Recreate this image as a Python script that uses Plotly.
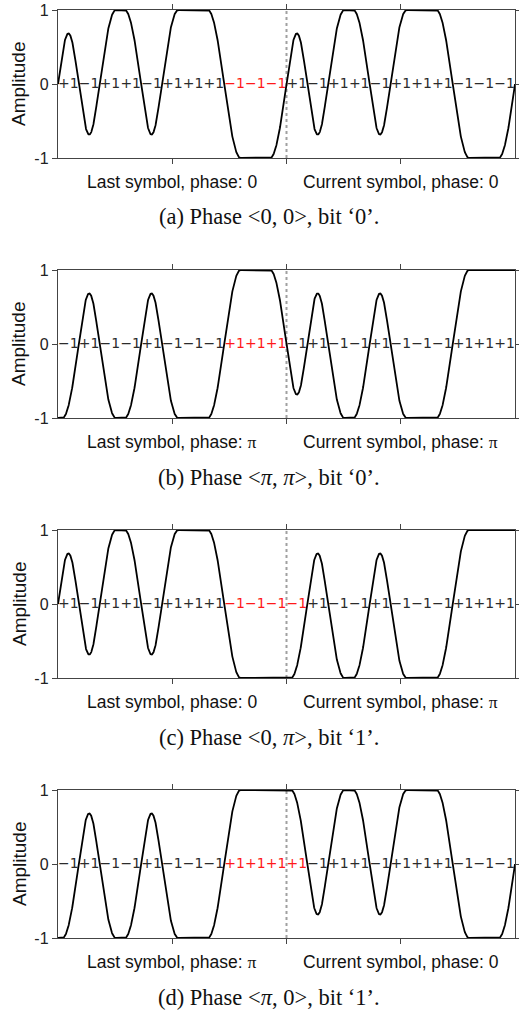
import numpy as np
import plotly.graph_objects as go

# ---------------- data ----------------
chips_last_phase0 = [1, -1, 1, 1, -1, 1, 1, 1, -1, -1, -1]
chips_last_phasepi = [-1, 1, -1, -1, 1, -1, -1, -1, 1, 1, 1]
chips_cur_phase0 = [1, -1, 1, 1, -1, 1, 1, 1, -1, -1, -1]
chips_cur_phasepi = [-1, 1, -1, -1, 1, -1, -1, -1, 1, 1, 1]
chip_before = -1          # chip preceding the shown window
chip_after = 1            # chip following the shown window

panel_last = ["0", "pi", "0", "pi"]
panel_cur = ["0", "pi", "pi", "0"]
red_last = [3, 3, 3, 3]   # highlighted chips at end of last symbol
red_cur = [0, 0, 1, 1]    # highlighted chips at start of current symbol
captions = [
    "(a) Phase &lt;0, 0&gt;, bit \u20180\u2019.",
    "(b) Phase &lt;<i>\u03c0</i>, <i>\u03c0</i>&gt;, bit \u20180\u2019.",
    "(c) Phase &lt;0, <i>\u03c0</i>&gt;, bit \u20181\u2019.",
    "(d) Phase &lt;<i>\u03c0</i>, 0&gt;, bit \u20181\u2019.",
]
y_tick_vals = [-1, 0, 1]
y_tick_text = ["-1", "0", "1"]
x_tick_vals = [5.5, 11, 16.5]

chip_sets = {"0": (chips_last_phase0, chips_cur_phase0),
             "pi": (chips_last_phasepi, chips_cur_phasepi)}


def step(u, w=1.57):
    v = np.clip(u / w, -0.5, 0.5)
    return 0.5 * (1 + np.sin(np.pi * v))


def waveform(chips, t):
    seq = [chip_before] + list(chips) + [chip_after]
    s = np.full_like(t, float(seq[0]))
    for k in range(1, len(seq)):
        d = seq[k] - seq[k - 1]
        if d:
            s = s + d * step(t - (k - 1))
    return s


H = 1013
W = 519
ML, MR = 58, 4
PW = W - ML - MR

fig = go.Figure()
layout = dict(
    width=W, height=H,
    margin=dict(l=ML, r=MR, t=0, b=0, autoexpand=False),
    paper_bgcolor="white", plot_bgcolor="white",
    showlegend=False,
    annotations=[], shapes=[],
)

pi_span = "<span style='font-family:Liberation Serif'>\u03c0</span>"

for i in range(4):
    n = "" if i == 0 else str(i + 1)
    xa, ya = "x" + n, "y" + n
    last = chip_sets[panel_last[i]][0]
    cur = chip_sets[panel_cur[i]][1]
    chips = list(last) + list(cur)
    nl = len(last)
    t = np.linspace(0, len(chips), 2201)
    s = waveform(chips, t)

    xs = [k + 0.5 for k in range(len(chips))]
    labels = [("+1" if c > 0 else "\u22121") for c in chips]
    colors = []
    for k in range(len(chips)):
        red = (nl - red_last[i] <= k < nl) or (nl <= k < nl + red_cur[i])
        colors.append("#ff1a1a" if red else "#2b2b2b")

    fig.add_trace(go.Scatter(
        x=xs, y=[0] * len(xs), mode="text", text=labels,
        textfont=dict(family="DejaVu Sans", size=14, color=colors),
        textposition="middle center", xaxis=xa, yaxis=ya,
        cliponaxis=False, hoverinfo="skip"))
    fig.add_trace(go.Scatter(
        x=t, y=s, mode="lines", line=dict(color="black", width=1.8),
        xaxis=xa, yaxis=ya, cliponaxis=False, hoverinfo="skip"))

    top = 10 + 260 * i
    bot = 158 + 260 * i
    axis_common = dict(showline=True, linecolor="#444", linewidth=1.2,
                       mirror="ticks", ticks="outside", ticklen=5,
                       tickcolor="#444", showgrid=False, zeroline=False,
                       automargin=False)
    layout["xaxis" + n] = dict(domain=[0, 1], range=[0, len(chips)],
                               tickvals=x_tick_vals, showticklabels=False,
                               anchor=ya, **axis_common)
    layout["yaxis" + n] = dict(domain=[1 - bot / H, 1 - top / H], range=[-1, 1],
                               tickvals=y_tick_vals, ticktext=y_tick_text,
                               tickfont=dict(family="Liberation Sans", size=16, color="#222"),
                               anchor=xa, **axis_common)

    layout["shapes"].append(dict(type="line", xref=xa, yref=ya,
                                 x0=nl, x1=nl, y0=-1, y1=1, layer="below",
                                 line=dict(color="#a0a0a0", width=2, dash="dot")))

    def ph(p):
        return "0" if p == "0" else pi_span

    ytitle = 1 - (182 + 260 * i) / H
    layout["annotations"].append(dict(
        text="Last symbol, phase: " + ph(panel_last[i]), xref=xa, x=x_tick_vals[0],
        yref="paper", y=ytitle, showarrow=False, xanchor="center", yanchor="middle",
        font=dict(family="Liberation Sans", size=17.5, color="#111")))
    layout["annotations"].append(dict(
        text="Current symbol, phase: " + ph(panel_cur[i]), xref=xa, x=x_tick_vals[2],
        yref="paper", y=ytitle, showarrow=False, xanchor="center", yanchor="middle",
        font=dict(family="Liberation Sans", size=17.5, color="#111")))
    layout["annotations"].append(dict(
        text="Amplitude", textangle=-90, xref="paper", x=(19 - ML) / PW,
        yref="paper", y=1 - (top + bot) / 2 / H, showarrow=False,
        xanchor="center", yanchor="middle",
        font=dict(family="Liberation Sans", size=19, color="#111")))
    layout["annotations"].append(dict(
        text=captions[i], xref="paper", x=(269 - ML) / PW,
        yref="paper", y=1 - (217 + 260 * i) / H, showarrow=False,
        xanchor="center", yanchor="middle",
        font=dict(family="Liberation Serif", size=22.5, color="#111")))

fig.update_layout(**layout)
fig.write_html("out.html",
               config={"displayModeBar": False, "staticPlot": True},
               post_script="document.body.style.margin='0';document.body.style.overflow='hidden';")
